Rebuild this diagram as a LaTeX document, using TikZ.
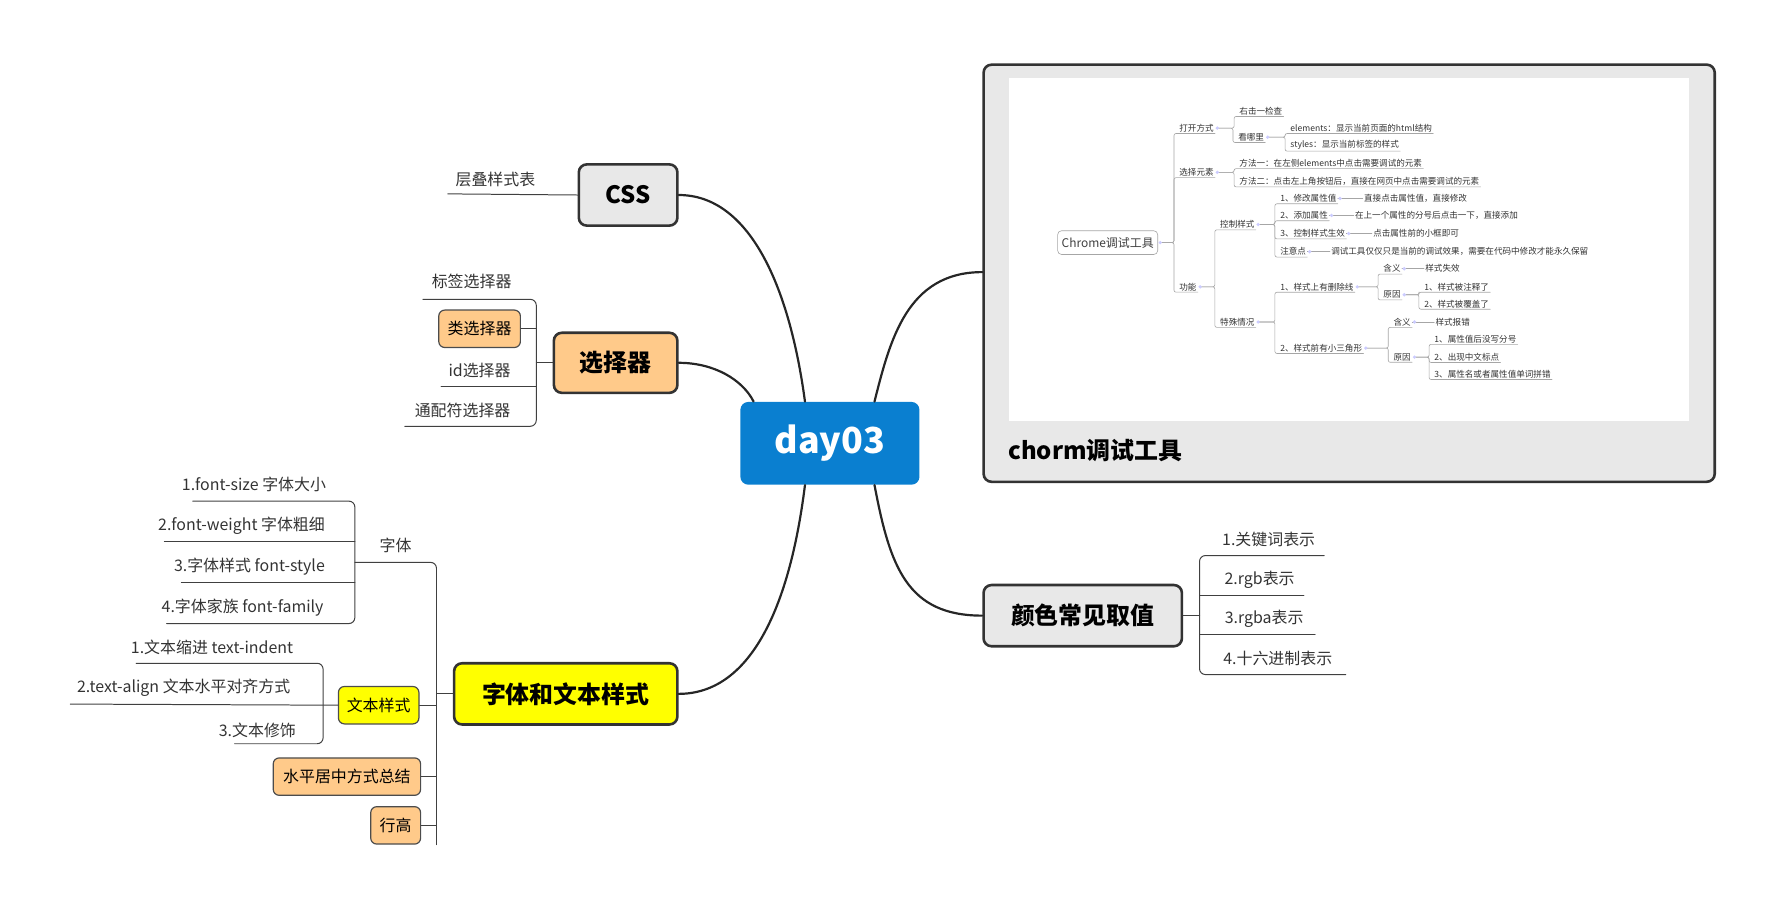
\documentclass[tikz,border=0pt]{standalone}
\usepackage{fontspec}
\setmainfont{Noto Sans CJK SC}
\usetikzlibrary{positioning}
\begin{document}
\begin{tikzpicture}
		[x=0.02cm,y=-0.02cm,line cap=round,
		%Styles
		topic/.style={draw=black!80,line width=1.3pt,rounded corners=4pt,font=\bfseries\fontsize{12}{14}\selectfont,inner sep=0pt},
		sub/.style={draw=black!70,line width=0.6pt,rounded corners=3pt,font=\fontsize{8}{10}\selectfont,inner sep=0pt},
		leaf/.style={font=\fontsize{8}{10}\selectfont,text=black!80,inner sep=0pt},
		branch/.style={black!85,line width=1.1pt},
		bracket/.style={black!75,line width=0.5pt,rounded corners=3pt},
		tiny/.style={font=\fontsize{4.3}{5}\selectfont,text=black!80,inner sep=0.5pt,anchor=west},
		tline/.style={black!35,line width=0.3pt,rounded corners=1pt}
		]
		
		%Colors
		\definecolor{rootblue}{HTML}{0A7FD0}
		\definecolor{boxgray}{HTML}{E8E8E8}
		\definecolor{boxorange}{HTML}{FFCA8A}
		\definecolor{boxyellow}{HTML}{FFFF00}
		
		\useasboundingbox (0,0) rectangle (1570,801);
		
		%The graphic
		\node[fill=rootblue,rounded corners=4pt,minimum width=3.16cm,minimum height=1.46cm,text=white,font=\bfseries\fontsize{18}{20}\selectfont] (root) at (732,391) {day03};
		
		\node[topic,fill=boxgray,minimum width=1.74cm,minimum height=1.08cm] (css) at (554,172) {CSS};
		\node[topic,fill=boxorange,minimum width=2.18cm,minimum height=1.06cm] (sel) at (543,320) {选择器};
		\node[topic,fill=boxgray,minimum width=3.5cm,minimum height=1.08cm] (color) at (955,543) {颜色常见取值};
		\node[topic,fill=boxyellow,minimum width=3.94cm,minimum height=1.08cm] (font) at (499,612) {字体和文本样式};
		\node[topic,fill=boxgray,minimum width=12.9cm,minimum height=7.36cm] (chrome) at (1190,241) {};
		\node[fill=white,minimum width=12cm,minimum height=6.06cm,inner sep=0pt] (shot) at (1190,220) {};
		\node[font=\bfseries\fontsize{12}{14}\selectfont,anchor=west,inner sep=0pt] (chromelbl) at (889,397) {chorm调试工具};
		
		\draw[branch] (root.north) ++(-22,0) coordinate (r1) .. controls (696,250) and (660,172) .. (css.east);
		\draw[branch] (root.north west) ++(12,0) coordinate (r2) .. controls (655,335) and (630,320) .. (sel.east);
		\draw[branch] (root.north east) ++(-40,0) coordinate (r3) .. controls (785,300) and (800,240) .. (chrome.west |- 0,240) coordinate (c1);
		\draw[branch] (root.south east) ++(-40,0) coordinate (r4) .. controls (785,500) and (800,543) .. (color.west);
		\draw[branch] (root.south) ++(-22,0) coordinate (r5) .. controls (696,540) and (660,612) .. (font.east);
		
		%CSS
		\node[leaf] (cssA) at (437,158) {层叠样式表};
		\draw[bracket] (css.west) -- (395,171);
		
		%selector
		\node[leaf] (selA) at (416,248) {标签选择器};
		\node[sub,fill=boxorange,minimum width=1.44cm,minimum height=0.66cm] (selB) at (423,290) {类选择器};
		\node[leaf] (selC) at (423,327) {id选择器};
		\node[leaf] (selD) at (408,362) {通配符选择器};
		\draw[bracket] (sel.west) -- (473,320);
		\draw[bracket] (373,264) -- (473,264) -- (473,376) -- (357,376);
		\draw[bracket] (selB.east) -- (473,290);
		\draw[bracket] (389,341) -- (473,341);
		
		%colour
		\node[leaf] (colA) at (1119,476) {1.关键词表示};
		\node[leaf] (colB) at (1111,511) {2.rgb表示};
		\node[leaf] (colC) at (1115,546) {3.rgba表示};
		\node[leaf] (colD) at (1127,581) {4.十六进制表示};
		\draw[bracket] (color.east) -- (1058,543);
		\draw[bracket] (1168,490) -- (1058,490) -- (1058,595) -- (1187,595);
		\draw[bracket] (1058,525) -- (1150,525);
		\draw[bracket] (1058,560) -- (1160,560);
		
		%font and text
		\node[leaf] (fz) at (349,481) {字体};
		\node[sub,fill=boxyellow,minimum width=1.42cm,minimum height=0.66cm] (txt) at (334,622) {文本样式};
		\node[sub,fill=boxorange,minimum width=2.6cm,minimum height=0.66cm] (hc) at (306,685) {水平居中方式总结};
		\node[sub,fill=boxorange,minimum width=0.88cm,minimum height=0.66cm] (lh) at (349,728) {行高};
		\draw[bracket] (font.west) -- (385,612);
		\draw[bracket] (313,496) -- (385,496) -- (385,745);
		\draw[bracket] (txt.east) -- (385,622);
		\draw[bracket] (hc.east) -- (385,685);
		\draw[bracket] (lh.east) -- (385,728);
		
		\node[leaf] (fzA) at (224,427) {1.font-size 字体大小};
		\node[leaf] (fzB) at (213,464) {2.font-weight 字体粗细};
		\node[leaf] (fzC) at (220,500) {3.字体样式 font-style};
		\node[leaf] (fzD) at (214,536) {4.字体家族 font-family};
		\draw[bracket] (170,442) -- (313,442) -- (313,550) -- (147,550);
		\draw[bracket] (145,478) -- (313,478);
		\draw[bracket] (160,514) -- (313,514);
		
		\node[leaf] (txA) at (187,571) {1.文本缩进 text-indent};
		\node[leaf] (txB) at (162,607) {2.text-align 文本水平对齐方式};
		\node[leaf] (txC) at (227,644) {3.文本修饰};
		\draw[bracket] (120,585) -- (285,585) -- (285,656) -- (207,656);
		\draw[bracket] (62,621) -- (txt.west);
		
		%screenshot of the chrome map
		\node[draw=black!35,line width=0.3pt,rounded corners=2pt,font=\fontsize{6}{7}\selectfont,text=black!75,inner sep=2pt,minimum height=0.42cm] (ch) at (977,214) {Chrome调试工具};
		\foreach \n/\x/\y/\t in {
			a/1039/113/打开方式, a1/1092/98/右击一检查, a2/1091/121/看哪里,
			a21/1137/113/elements：显示当前页面的html结构, a22/1137/128/styles：显示当前标签的样式,
			b/1039/152/选择元素, b1/1092/144/方法一：在左侧elements中点击需要调试的元素, b2/1092/160/方法二：点击左上角按钮后，直接在网页中点击需要调试的元素,
			c/1039/253/功能, c1/1075/198/控制样式, c2/1075/284/特殊情况,
			d1/1128/175/1、修改属性值, d1a/1202/175/直接点击属性值，直接修改,
			d2/1128/190/2、添加属性, d2a/1194/190/在上一个属性的分号后点击一下，直接添加,
			d3/1128/206/3、控制样式生效, d3a/1210/206/点击属性前的小框即可,
			d4/1128/222/注意点, d4a/1173/222/调试工具仅仅只是当前的调试效果，需要在代码中修改才能永久保留,
			e1/1128/253/1、样式上有删除线, e11/1219/237/含义, e11a/1256/237/样式失效, e12/1219/260/原因,
			e121/1255/253/1、样式被注释了, e122/1255/268/2、样式被覆盖了,
			e2/1128/307/2、样式前有小三角形, e21/1228/284/含义, e21a/1265/284/样式报错, e22/1228/315/原因,
			e221/1264/299/1、属性值后没写分号, e222/1264/315/2、出现中文标点, e223/1264/330/3、属性名或者属性值单词拼错}
			\node[tiny] (\n) at (\x,\y) {\t};
		\foreach \p/\c in {ch/a,ch/b,ch/c,a/a1,a/a2,a2/a21,a2/a22,b/b1,b/b2,c/c1,c/c2,c1/d1,c1/d2,c1/d3,c1/d4,c2/e1,c2/e2,e1/e11,e1/e12,e12/e121,e12/e122,e2/e21,e2/e22,e22/e221,e22/e222,e22/e223}
			\draw[tline] (\p.east) ++(3,0) -| ([xshift=-2pt]\c.south west) -- (\c.south east);
		\foreach \p/\c in {d1/d1a,d2/d2a,d3/d3a,d4/d4a,e11/e11a,e21/e21a}
			\draw[tline] (\p.east) -- (\c.west);
		\foreach \p in {ch,a,a2,b,c,c1,c2,d1,d2,d3,d4,e1,e11,e12,e2,e21,e22}
			\fill[blue!20] (\p.east) ++(2,0) circle (1.6);
	\end{tikzpicture}
\end{document}
